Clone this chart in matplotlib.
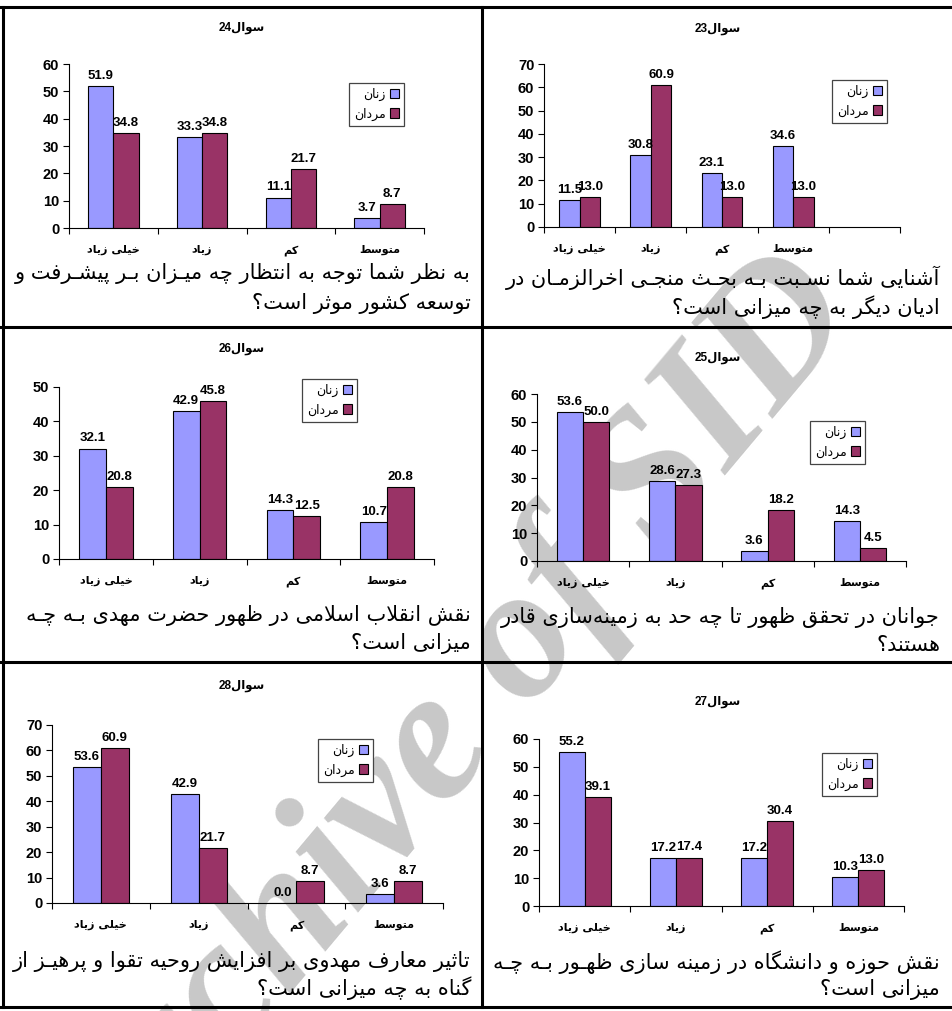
import re
import matplotlib
matplotlib.use('Agg')
import matplotlib.pyplot as plt
from matplotlib.lines import Line2D
from matplotlib.patches import Patch
import numpy as np

# ---- data ----
categories = ['خیلی زیاد', 'زیاد', 'کم', 'متوسط']
series_names = ['زنان', 'مردان']

q23_women = [11.5, 30.8, 23.1, 34.6]
q23_men = [13.0, 60.9, 13.0, 13.0]
q24_women = [51.9, 33.3, 11.1, 3.7]
q24_men = [34.8, 34.8, 21.7, 8.7]
q25_women = [53.6, 28.6, 3.6, 14.3]
q25_men = [50.0, 27.3, 18.2, 4.5]
q26_women = [32.1, 42.9, 14.3, 10.7]
q26_men = [20.8, 45.8, 12.5, 20.8]
q27_women = [55.2, 17.2, 17.2, 10.3]
q27_men = [39.1, 17.4, 30.4, 13.0]
q28_women = [53.6, 42.9, 0.0, 3.6]
q28_men = [60.9, 21.7, 8.7, 8.7]

titles = {23: 'سوال23', 24: 'سوال24', 25: 'سوال25', 26: 'سوال26', 27: 'سوال27', 28: 'سوال28'}
captions = {
    24: ('به نظر شما توجه به انتظار چه میـزان بـر پیشـرفت و', 'توسعه کشور موثر است؟'),
    23: ('آشنایی شما نسـبت بـه بحـث منجـی اخرالزمـان در', 'ادیان دیگر به چه میزانی است؟'),
    26: ('نقش انقلاب اسلامی در ظهور حضرت مهدی بـه چـه', 'میزانی است؟'),
    25: ('جوانان در تحقق ظهور تا چه حد به زمینه\u200cسازی قادر', 'هستند؟'),
    28: ('تاثیر معارف مهدوی بر افزایش روحیه تقوا و پرهیـز از', 'گناه به چه میزانی است؟'),
    27: ('نقش حوزه و دانشگاه در زمینه سازی ظهـور بـه چـه', 'میزانی است؟'),
}

# ---- minimal arabic shaping (matplotlib has no bidi / shaping) ----
DUAL = {'ب': 0xFE8F, 'ت': 0xFE95, 'ث': 0xFE99, 'ج': 0xFE9D, 'ح': 0xFEA1, 'خ': 0xFEA5,
        'س': 0xFEB1, 'ش': 0xFEB5, 'ص': 0xFEB9, 'ض': 0xFEBD, 'ط': 0xFEC1, 'ظ': 0xFEC5,
        'ع': 0xFEC9, 'غ': 0xFECD, 'ف': 0xFED1, 'ق': 0xFED5, 'ك': 0xFED9, 'ل': 0xFEDD,
        'م': 0xFEE1, 'ن': 0xFEE5, 'ه': 0xFEE9, 'ي': 0xFEF1, 'ئ': 0xFE89, 'پ': 0xFB56,
        'چ': 0xFB7A, 'ک': 0xFB8E, 'گ': 0xFB92, 'ی': 0xFBFC}
RIGHT = {'ا': 0xFE8D, 'آ': 0xFE81, 'أ': 0xFE83, 'إ': 0xFE87, 'ؤ': 0xFE85, 'د': 0xFEA9,
         'ذ': 0xFEAB, 'ر': 0xFEAD, 'ز': 0xFEAF, 'و': 0xFEED, 'ة': 0xFE93, 'ى': 0xFEEF,
         'ژ': 0xFB8A}
LAMALEF = {'ا': (0xFEFB, 0xFEFC), 'آ': (0xFEF5, 0xFEF6), 'أ': (0xFEF7, 0xFEF8), 'إ': (0xFEF9, 0xFEFA)}
TATWEEL = '\u0640'


def joins_next(c):
    return c in DUAL or c == TATWEEL


def joining(c):
    return c in DUAL or c in RIGHT or c == TATWEEL


def fa(text):
    res = []
    n = len(text)
    i = 0
    while i < n:
        c = text[i]
        prev = text[i - 1] if i > 0 else None
        p = prev is not None and joins_next(prev)
        if c == 'ل' and i + 1 < n and text[i + 1] in LAMALEF:
            iso, fin = LAMALEF[text[i + 1]]
            res.append(chr(fin if p else iso))
            i += 2
            continue
        if c in DUAL or c in RIGHT:
            nxt = text[i + 1] if i + 1 < n else None
            nx = c in DUAL and nxt is not None and joining(nxt)
            base = DUAL.get(c, RIGHT.get(c))
            if p and nx:
                res.append(chr(base + 3))
            elif p:
                res.append(chr(base + 1))
            elif nx:
                res.append(chr(base + 2))
            else:
                res.append(chr(base))
        elif c != '\u200c':
            res.append(c)
        i += 1
    s = ''.join(res)[::-1]
    return re.sub(r'[0-9.]+', lambda m: m.group(0)[::-1], s)


# ---- figure ----
W, H = 952, 1011
fig = plt.figure(figsize=(W / 100, H / 100), dpi=100)
fig.patch.set_facecolor('white')

ARAB = ['DejaVu Sans']
NUM = ['Liberation Sans', 'DejaVu Sans']
BLUE = '#9999FF'
RED = '#993366'


def fx(x):
    return x / W


def fy(y):
    return 1 - y / H


# watermark (behind everything)
fig.text(fx(452), fy(740), 'Archive of SID', rotation=50, rotation_mode='anchor',
         ha='center', va='center', fontsize=136, fontweight='bold', fontstyle='italic',
         family='Liberation Serif', color='#c8c8c8', zorder=-5)

# table borders
lw = 2.2
for y in (7, 327, 662, 1007):
    fig.add_artist(Line2D([0, 1], [fy(y), fy(y)], transform=fig.transFigure, color='black', lw=lw))
for x in (3, 482):
    fig.add_artist(Line2D([fx(x), fx(x)], [fy(7), fy(1007)], transform=fig.transFigure, color='black', lw=lw))

# panel layout in pixels: axis x0, x1, y(top), y(zero), ymax, cell centre, legend x/y, caption x/y, title y
panels = [
    (24, q24_women, q24_men, 69, 424, 64, 228, 60, 242, 349, 83, 471, 273, 303, 28),
    (23, q23_women, q23_men, 544, 900, 64, 227, 70, 718, 832, 80, 940, 278, 307, 29),
    (26, q26_women, q26_men, 59, 434, 387, 559, 50, 242, 302, 379, 471, 615, 643, 349),
    (25, q25_women, q25_men, 537, 906, 394, 561, 60, 718, 810, 421, 940, 617, 645, 358),
    (28, q28_women, q28_men, 52, 443, 725, 903, 70, 242, 318, 739, 471, 961, 988, 686),
    (27, q27_women, q27_men, 539, 904, 739, 906, 60, 718, 822, 753, 940, 962, 990, 702),
]

for (q, women, men, x0, x1, ytop, ybot, ymax, cx, lx, ly, capx, cy1, cy2, ty) in panels:
    ax = fig.add_axes([fx(x0), fy(ybot), (x1 - x0) / W, (ybot - ytop) / H])
    ax.patch.set_alpha(0)
    ncat = 5 if q == 23 else 4
    labels = categories + [''] * (ncat - len(categories))
    idx = np.arange(len(women))
    bw = 1 / 3.5
    b1 = ax.bar(idx - bw / 2, women, bw, color=BLUE, edgecolor='black', lw=0.8)
    b2 = ax.bar(idx + bw / 2, men, bw, color=RED, edgecolor='black', lw=0.8)
    for bars, vals in ((b1, women), (b2, men)):
        for r, v in zip(bars, vals):
            ax.annotate(f'{v:.1f}', (r.get_x() + r.get_width() / 2, v), xytext=(0, 3),
                        textcoords='offset points', ha='center', va='bottom',
                        fontsize=9.5, fontweight='bold', family=NUM)
    ax.set_xlim(-0.5, ncat - 0.5)
    ax.set_ylim(0, ymax)
    ax.set_yticks(np.arange(0, ymax + 1, 10))
    ax.tick_params(axis='y', labelsize=10.5, length=4, width=0.8, pad=3)
    for t in ax.get_yticklabels():
        t.set_fontweight('bold')
        t.set_family(NUM)
    ax.set_xticks(np.arange(ncat + 1) - 0.5)
    ax.set_xticklabels([])
    ax.tick_params(axis='x', which='major', length=4, width=0.8)
    ax.set_xticks(np.arange(ncat), minor=True)
    ax.set_xticklabels([fa(s) for s in labels], minor=True)
    ax.tick_params(axis='x', which='minor', length=0, pad=12, labelsize=8)
    for t in ax.get_xticklabels(minor=True):
        t.set_fontweight('bold')
        t.set_family(ARAB)
    for s in ('top', 'right'):
        ax.spines[s].set_visible(False)
    ax.spines['left'].set_linewidth(0.8)
    ax.spines['bottom'].set_linewidth(0.8)

    handles = [Patch(facecolor=BLUE, edgecolor='black', lw=0.8),
               Patch(facecolor=RED, edgecolor='black', lw=0.8)]
    leg = ax.legend(handles, [fa(s) for s in series_names], loc='upper left',
                    bbox_to_anchor=(fx(lx), fy(ly)), bbox_transform=fig.transFigure,
                    markerfirst=False, fancybox=False, framealpha=1, edgecolor='#444444',
                    prop={'family': ARAB, 'size': 9}, borderpad=0.4, handlelength=0.75,
                    handleheight=0.75, handletextpad=0.3, labelspacing=0.5, borderaxespad=0)
    leg.get_frame().set_linewidth(0.9)

    fig.text(fx(cx), fy(ty), fa(titles[q]), ha='center', va='center', fontsize=8.5,
             fontweight='bold', family=NUM)
    fig.text(fx(capx), fy(cy1), fa(captions[q][0]), ha='right', va='center', fontsize=15, family=ARAB)
    fig.text(fx(capx), fy(cy2), fa(captions[q][1]), ha='right', va='center', fontsize=15, family=ARAB)

fig.savefig('out.png', dpi=100)
